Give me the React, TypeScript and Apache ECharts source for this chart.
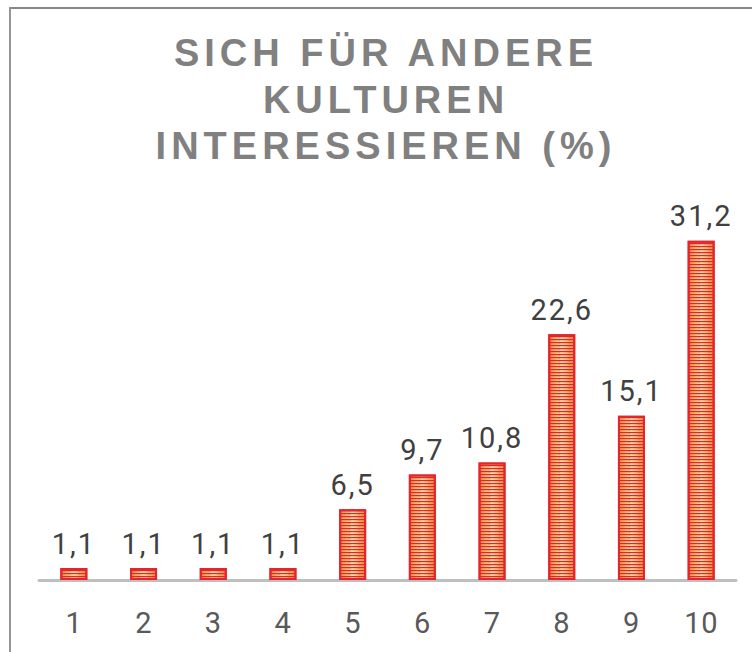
import React, { useEffect, useRef } from "react";
import * as echarts from "echarts";

const categories = ["1", "2", "3", "4", "5", "6", "7", "8", "9", "10"];
const values = [1.1, 1.1, 1.1, 1.1, 6.5, 9.7, 10.8, 22.6, 15.1, 31.2];
const titleLines = ["SICH FÜR ANDERE", "KULTUREN", "INTERESSIEREN (%)"];

function fmt(v: number): string {
  return String(v).replace(".", ",");
}

export default function App() {
  const ref = useRef<HTMLDivElement>(null);
  useEffect(() => {
    if (!ref.current) return;
    const chart = echarts.init(ref.current, null, { renderer: "svg" });
    const option: any = {
      animation: false,
      backgroundColor: "#ffffff",
      grid: { left: 39, right: 16, top: 199.5, bottom: 72 },
      graphic: [
        {
          type: "line",
          shape: { x1: 9, y1: 8, x2: 752, y2: 8 },
          style: { stroke: "#878787", lineWidth: 2 },
        },
        {
          type: "line",
          shape: { x1: 10, y1: 7, x2: 10, y2: 652 },
          style: { stroke: "#959595", lineWidth: 2 },
        },
        {
          type: "text",
          x: 386,
          y: 30,
          style: {
            text: titleLines.join("\n"),
            textAlign: "center",
            textVerticalAlign: "top",
            fontFamily: "Liberation Sans, Arial, sans-serif",
            fontWeight: "bold",
            fontSize: 38,
            lineHeight: 46.5,
            fill: "#808080",
          },
        },
      ],
      xAxis: {
        type: "category",
        data: categories,
        axisLine: { show: true, lineStyle: { color: "#bfbfbf", width: 3 } },
        axisTick: { show: false },
        axisLabel: {
          margin: 28,
          fontFamily: "Roboto, sans-serif",
          fontSize: 29,
          color: "#595959",
        },
        splitLine: { show: false },
      },
      yAxis: {
        type: "value",
        min: 0,
        max: 35,
        show: false,
        splitLine: { show: false },
      },
      series: [
        {
          type: "bar",
          data: values,
          barWidth: 27,
          itemStyle: {
            color: new echarts.graphic.LinearGradient(0, 0, 1, 0, [
              { offset: 0, color: "#ee8d3a" },
              { offset: 0.5, color: "#fcd9a2" },
              { offset: 1, color: "#ee8d3a" },
            ]),
            borderColor: "#e3262e",
            borderWidth: 2,
            decal: {
              symbol: "rect",
              symbolSize: 1.3,
              color: "#e3262e",
              dashArrayX: [[10, 0]],
              dashArrayY: [1, 2],
              rotation: 0,
            },
          },
          label: {
            show: true,
            position: "top",
            distance: 10,
            fontFamily: "Roboto, sans-serif",
            fontSize: 29,
            color: "#404040",
            formatter: (p: any) => fmt(p.value),
          },
        },
      ],
    };
    chart.setOption(option);
    const applySpacing = () => {
      if (!ref.current) return;
      const texts = ref.current.querySelectorAll("text");
      texts.forEach((t) => {
        const c = (t.textContent || "").trim();
        if (titleLines.indexOf(c) >= 0) t.setAttribute("letter-spacing", "5px");
        else if (c.indexOf(",") >= 0) t.setAttribute("letter-spacing", "2px");
        else t.setAttribute("letter-spacing", "0.5px");
      });
    };
    applySpacing();
    chart.on("finished", applySpacing);
    const id = window.setTimeout(applySpacing, 50);
    return () => {
      window.clearTimeout(id);
      chart.dispose();
    };
  }, []);
  return (
    <div
      ref={ref}
      style={{ position: "absolute", left: 0, top: 0, width: 752, height: 652 }}
    />
  );
}
